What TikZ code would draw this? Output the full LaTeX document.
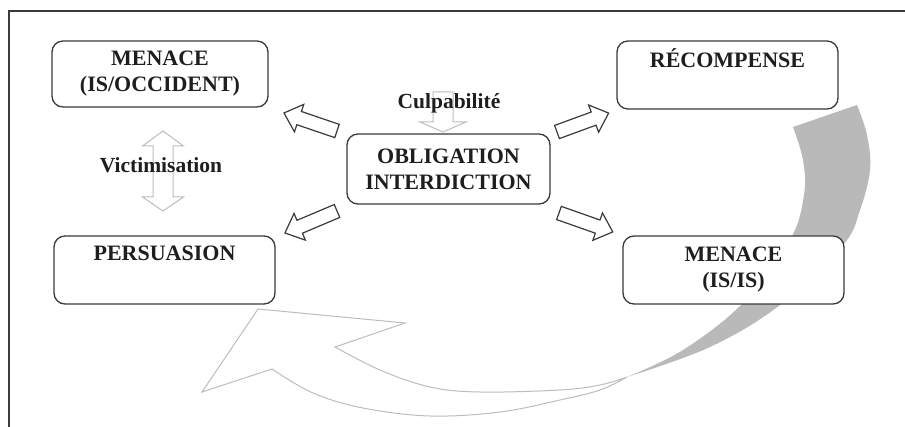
\documentclass[tikz,border=0pt]{standalone}
\usepackage{fontspec}
\setmainfont{Liberation Serif}
\definecolor{boxline}{HTML}{3A3A3A}
\definecolor{txt}{HTML}{1E1E1E}
\definecolor{lgray}{HTML}{BDBDBD}
\definecolor{ribbon}{HTML}{B9B9B9}
\newcommand{\blockarr}[7]{%
  \draw[#1, shift={#2}, rotate=#3] (0,-#5) -- ({#4-#7},-#5) -- ({#4-#7},-#6) -- (#4,0) -- ({#4-#7},#6) -- ({#4-#7},#5) -- (0,#5) -- cycle;}
\tikzset{
  box/.style={draw=boxline, line width=1.3pt, rounded corners=11pt, fill=white,
    align=center, text=txt, inner sep=0pt,
    font=\fontsize{22}{26}\selectfont\bfseries},
  lbl/.style={text=txt, inner sep=0pt, font=\fontsize{21.5}{26}\selectfont\bfseries},
  darkarrow/.style={draw=boxline, line width=1.2pt, fill=white, line join=miter},
  lightarrow/.style={draw=lgray, line width=1pt},
  outline/.style={draw=lgray, line width=1pt, line join=miter}
}
\begin{document}
\begin{tikzpicture}[x=1pt, y=-1pt]
\useasboundingbox (0,0) rectangle (905,427);
\fill[white] (0,0) rectangle (905,427);
% frame
\draw[boxline, line width=1.3pt] (905,11) -- (9,11) -- (9,427);

% curved return arrow: shaded ribbon part
\fill[ribbon] plot[smooth, tension=0.6] coordinates {(857,105) (867,135) (870,170) (860,210) (843,245) (780,305) (710,347) (627,377)}
  -- plot[smooth, tension=0.6] coordinates {(627,377) (683,350) (743,303) (790,240) (804,195) (803,160) (793,127)} -- cycle;
% curved return arrow: outlined part
\draw[outline] plot[smooth, tension=0.6] coordinates {(627,377) (600,385) (560,390) (480,392) (430,387) (380,370) (335,347)}
  -- (405,323) -- (258,309) -- (202,392) -- (272,369)
  -- plot[smooth, tension=0.6] coordinates {(272,369) (313,393) (363,408) (430,416) (500,412) (560,400) (600,390) (627,377)};

% boxes
\node[box, minimum width=216pt, minimum height=66pt] (mo) at (160,74) {MENACE\\(IS/OCCIDENT)};
\node[box, minimum width=221pt, minimum height=68pt] (rc) at (727.5,75) {RÉCOMPENSE\\\strut};
\node[box, minimum width=203pt, minimum height=70pt] (oi) at (448.5,169) {OBLIGATION\\INTERDICTION};
\node[box, minimum width=221pt, minimum height=68pt] (pe) at (164.5,270) {PERSUASION\\\strut};
\node[box, minimum width=221pt, minimum height=68pt] (mi) at (733.5,270) {MENACE\\(IS/IS)};

% block arrows from centre
\blockarr{darkarrow}{(337,131)}{161.2}{56}{7}{14.5}{16}
\blockarr{darkarrow}{(337,211)}{-157.1}{56.5}{7}{14.5}{16}
\blockarr{darkarrow}{(557,132)}{20.1}{55}{7}{14.5}{16}
\blockarr{darkarrow}{(559,213)}{-19.4}{57}{7}{14.5}{16}

% light arrows
\draw[lightarrow] (433,92) -- (453,92) -- (453,122) -- (466,122) -- (443,132) -- (420,122) -- (433,122) -- cycle;
\draw[lightarrow] (163,131) -- (183.5,146) -- (173,146) -- (173,197) -- (183.5,197) -- (163,211) -- (142.5,197) -- (153,197) -- (153,146) -- (142.5,146) -- cycle;

% labels
\node[lbl] (culp) at (449,103) {Culpabilité};
\node[lbl] (vict) at (161,165) {Victimisation};
\end{tikzpicture}
\end{document}
